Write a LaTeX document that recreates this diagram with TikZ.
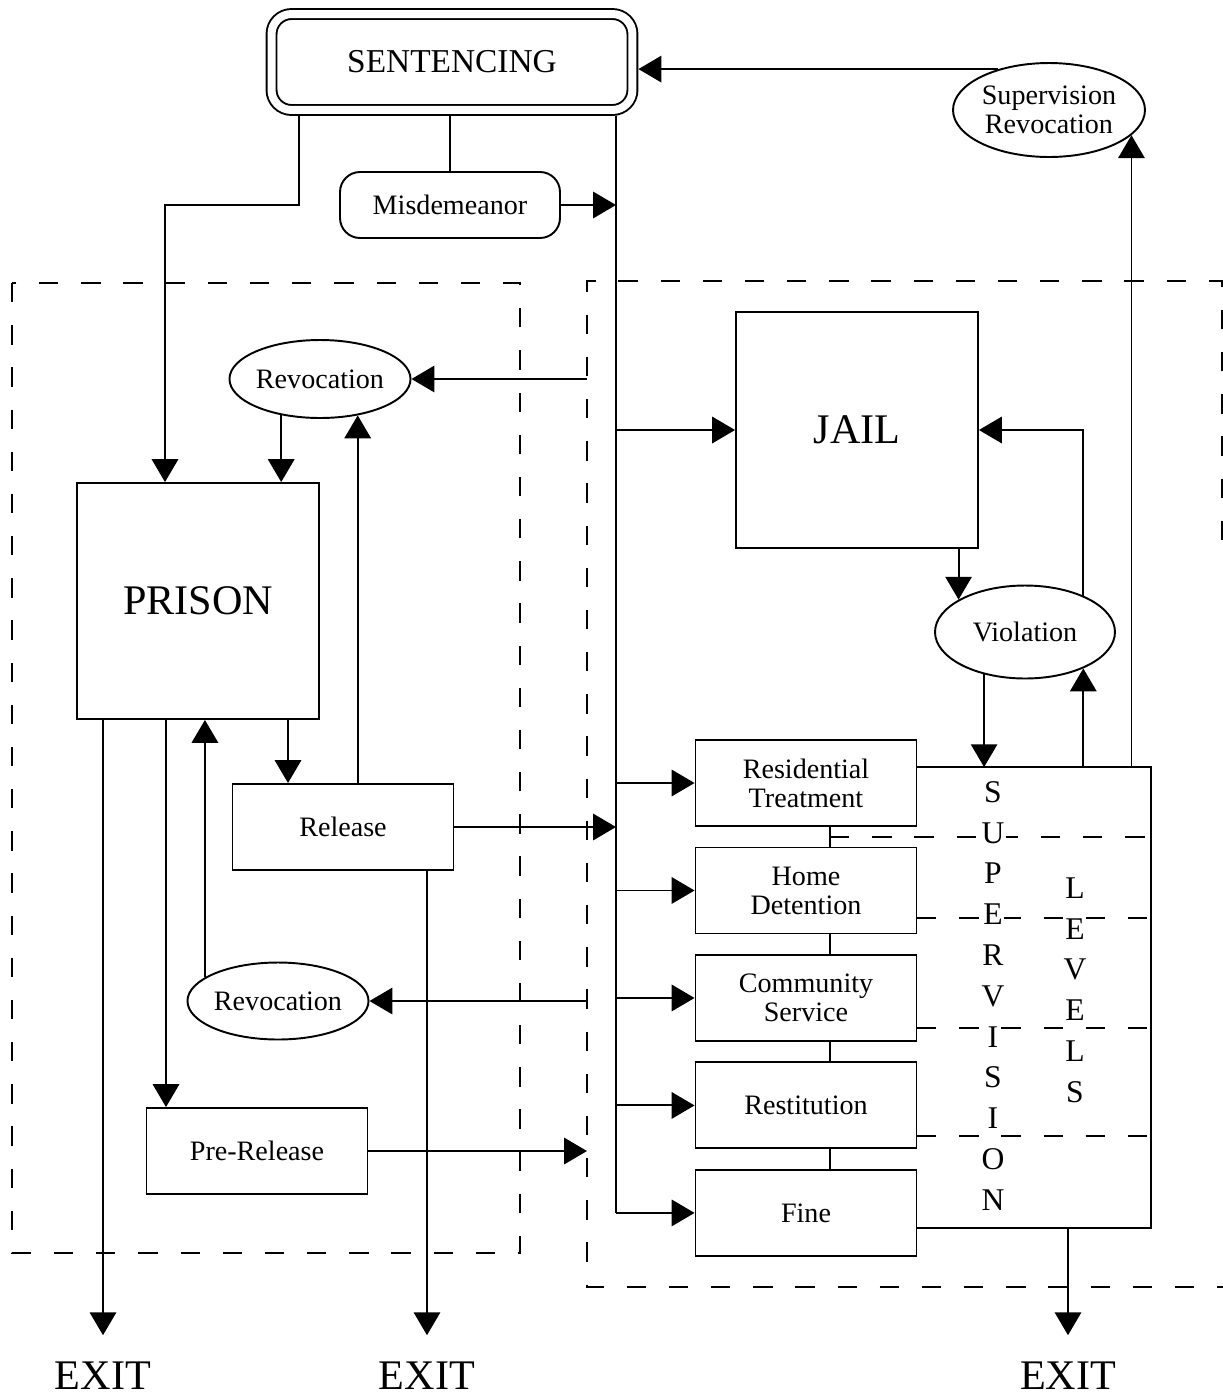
\documentclass[tikz,border=0pt]{standalone}
\usepackage{fontspec}
\setmainfont{Liberation Serif}
\usetikzlibrary{arrows.meta,shapes.geometric}

\begin{document}
\begin{tikzpicture}[x=0.02cm,y=-0.02cm,>={Triangle[length=13pt,width=15pt]},line width=1.1pt,node distance=2.15cm,
  box/.style={draw,rectangle,minimum width=4.42cm,minimum height=1.72cm,align=center,font=\fontsize{16}{16.5}\selectfont},
  big box/.style={draw,rectangle,minimum width=4.84cm,minimum height=4.72cm,font=\fontsize{24}{26}\selectfont},
  oval/.style={draw,ellipse,inner sep=0pt,align=center,font=\fontsize{16}{16.5}\selectfont},
  exit label/.style={font=\fontsize{24}{26}\selectfont,inner sep=0pt,outer ysep=0.54cm},
  frame/.style={dash pattern=on 11pt off 13pt},
  letter/.style={font=\fontsize{18}{18}\selectfont,fill=white,inner sep=1pt}]
	\useasboundingbox (0,0) rectangle (1223,1397);

	% dashed frames
	\draw[frame] (12,283) rectangle (520,1253);
	\draw[frame] (1222,540) -- (1222,281) -- (587,281) -- (587,1287) -- (1223,1287);

	\node[draw,double,double distance=0.16cm,rounded corners=0.4cm,minimum width=7.22cm,minimum height=1.92cm,outer sep=0.12cm,font=\fontsize{19}{20}\selectfont] (sent) at (452,62) {SENTENCING};
	\node[draw,rounded corners=0.4cm,minimum width=4.4cm,minimum height=1.32cm,font=\fontsize{16}{16.5}\selectfont] (misd) at (450,205) {Misdemeanor};
	\node[oval,minimum width=3.84cm,minimum height=1.88cm] (srev) at (1049,110) {Supervision\\Revocation};

	\node[big box] (prison) at (198,601) {PRISON};
	\node[oval,minimum width=3.6cm,minimum height=1.56cm] (rev1) at (320,379) {Revocation};
	\node[box] (rel) at (343,827) {Release};
	\node[oval,minimum width=3.58cm,minimum height=1.54cm] (rev2) at (278,1001) {Revocation};
	\node[box] (prerel) at (257,1151) {Pre-Release};

	\node[big box] (jail) at (857,430) {JAIL};
	\node[oval,minimum width=3.6cm,minimum height=1.86cm] (viol) at (1025,632) {Violation};
	\node[box] (res) at (806,783) {Residential\\Treatment};
	\node[box,below of=res] (home) {Home\\Detention};
	\node[box,below of=home] (comm) {Community\\Service};
	\node[box,below of=comm] (rest) {Restitution};
	\node[box,below of=rest] (fine) {Fine};
	\node[minimum width=4.68cm,minimum height=9.18cm] (svl) at (1033,997.5) {};

	\node[exit label] (exit1) at (103,1376) {EXIT};
	\node[exit label] (exit2) at (427,1376) {EXIT};
	\node[exit label] (exit3) at (1068,1376) {EXIT};

	\coordinate (drop) at (299,205);
	\coordinate (bend) at (165,205);
	\coordinate (trunk) at (616,0);
	\coordinate (rframe) at (587,0);
	\coordinate (c1) at (288,0);
	\coordinate (c2) at (166,0);
	\coordinate (link) at (830,0);
	\coordinate (sep1) at (830,837);
	\coordinate (sep2) at (917,918);
	\coordinate (sep3) at (917,1028);
	\coordinate (sep4) at (917,1136);

	% sentencing
	\draw[->] (sent.south -| drop) -- (drop) -- (bend) -- (bend |- prison.north);
	\draw (sent.south -| misd.north) -- (misd.north);
	\draw (sent.south -| trunk) -- (trunk |- fine.west);
	\draw[->] (misd.east) -- (misd.east -| trunk);
	\draw[->] (srev.141) -- (srev.141 -| sent.east);

	% prison side
	\draw[->] (rev1.east -| rframe) -- (rev1.east);
	\draw[->] (rev1.223) -- (rev1.223 |- prison.north);
	\draw[->] (rev1.316 |- rel.north) -- (rev1.316);
	\draw[->] (prison.south -| c1) -- (c1 |- rel.north);
	\draw[->] (prison.south -| c2) -- (c2 |- prerel.north);
	\draw[->] (rev2.162) -- (rev2.162 |- prison.south);
	\draw[->] (rev2.east -| rframe) -- (rev2.east);
	\draw[->] (rel.east) -- (rel.east -| trunk);
	\draw[->] (prerel.east) -- (prerel.east -| rframe);
	\draw[->] (prison.south -| exit1) -- (exit1.north);
	\draw[->] (rel.south -| exit2) -- (exit2.north);

	% jail side
	\draw[->] (trunk |- jail.west) -- (jail.west);
	\foreach \n in {res,home,comm,rest,fine}
		\draw[->] (trunk |- \n.west) -- (\n.west);
	\foreach \a/\b in {res/home,home/comm,comm/rest,rest/fine}
		\draw (\a.south -| link) -- (link |- \b.north);
	\draw[->] (viol.154 |- jail.south) -- (viol.154);
	\draw[->] (viol.226) -- (viol.226 |- svl.north);
	\draw[->] (viol.328 |- svl.north) -- (viol.328);
	\draw[->] (viol.32) |- (jail.east);
	\draw[->] (srev.343 |- svl.north) -- (srev.343);
	\draw[->] (svl.south -| exit3) -- (exit3.north);

	% supervision levels
	\draw (res.east |- svl.north) -- (svl.north east) -- (svl.south east) -- (fine.east |- svl.south);
	\draw[frame] (sep1) -- (sep1 -| svl.east);
	\foreach \s in {sep2,sep3,sep4}
		\draw[frame] (\s) -- (\s -| svl.east);
	\foreach \l [count=\i from 0] in {S,U,P,E,R,V,I,S,I,O,N}
		\node[letter] (sup\i) at (993,{792+40.8*\i}) {\l};
	\foreach \l [count=\i from 0] in {L,E,V,E,L,S}
		\node[letter] (lev\i) at (1075,{888+40.8*\i}) {\l};
\end{tikzpicture}
\end{document}
